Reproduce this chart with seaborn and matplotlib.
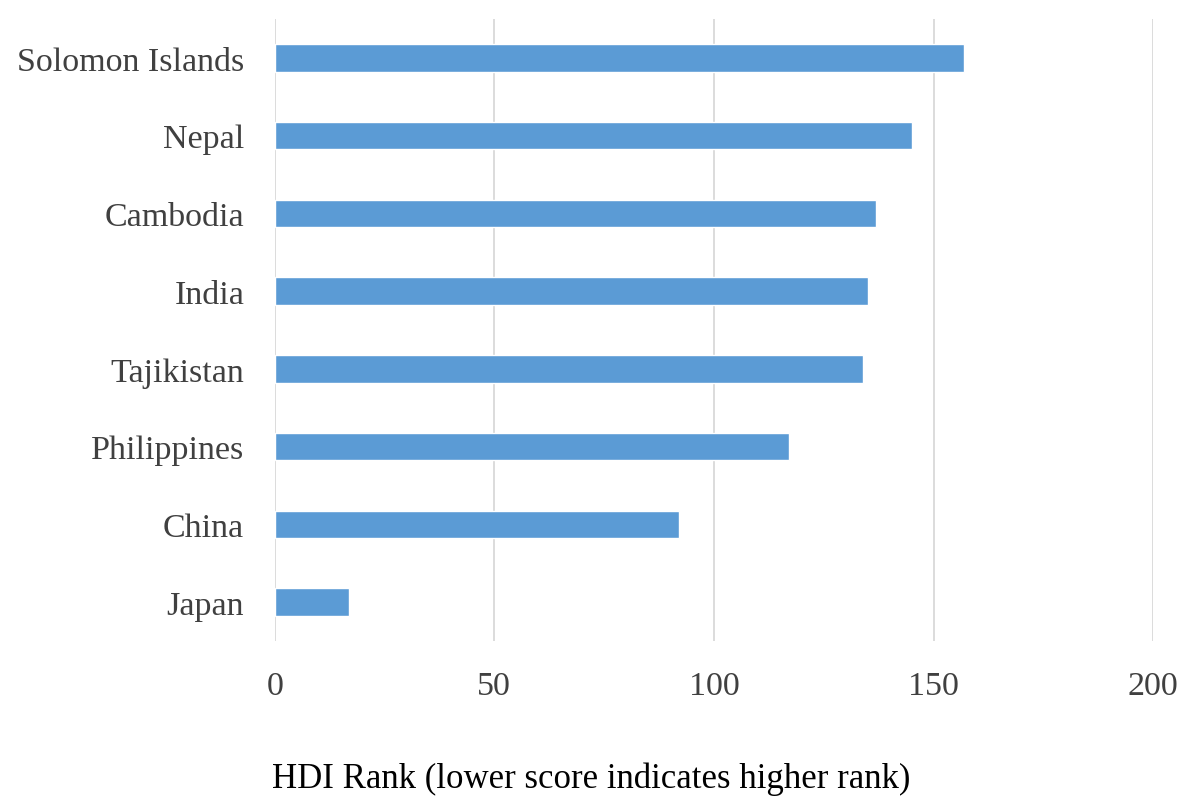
import matplotlib
matplotlib.use("Agg")
import matplotlib.pyplot as plt
import seaborn as sns
import pandas as pd

countries = ["Solomon Islands", "Nepal", "Cambodia", "India", "Tajikistan",
             "Philippines", "China", "Japan"]
hdi_rank = [157, 145, 137, 135, 134, 117, 92, 17]
x_ticks = [0, 50, 100, 150, 200]
x_label = "HDI Rank (lower score indicates higher rank)"

df = pd.DataFrame({"country": countries, "rank": hdi_rank})

sns.set_theme(style="white")
plt.rcParams["font.family"] = ["Liberation Serif", "DejaVu Serif"]

fig = plt.figure(figsize=(11.84, 8.03), dpi=100)
ax = fig.add_axes([0.232, 0.2005, 0.742, 0.7745])

sns.barplot(data=df, x="rank", y="country", orient="h", color="#5b9bd5",
            saturation=1, width=0.355, ax=ax, zorder=3)

ax.set_xlim(0, 200)
ax.set_xticks(x_ticks)
ax.set_xticklabels([str(t) for t in x_ticks])
ax.grid(axis="x", color="#d9d9d9", linewidth=1.3, zorder=0)
ax.set_axisbelow(True)
for s in ax.spines.values():
    s.set_visible(False)
ax.tick_params(axis="both", length=0, labelsize=24.5, labelcolor="#404040")
ax.tick_params(axis="x", pad=21)
ax.tick_params(axis="y", pad=22)
ax.set_xlabel("")
ax.set_ylabel("")

fig.text(0.499, 0.019, x_label, ha="center", va="baseline", fontsize=25,
         color="#000000")

fig.savefig("out.png", dpi=100)
